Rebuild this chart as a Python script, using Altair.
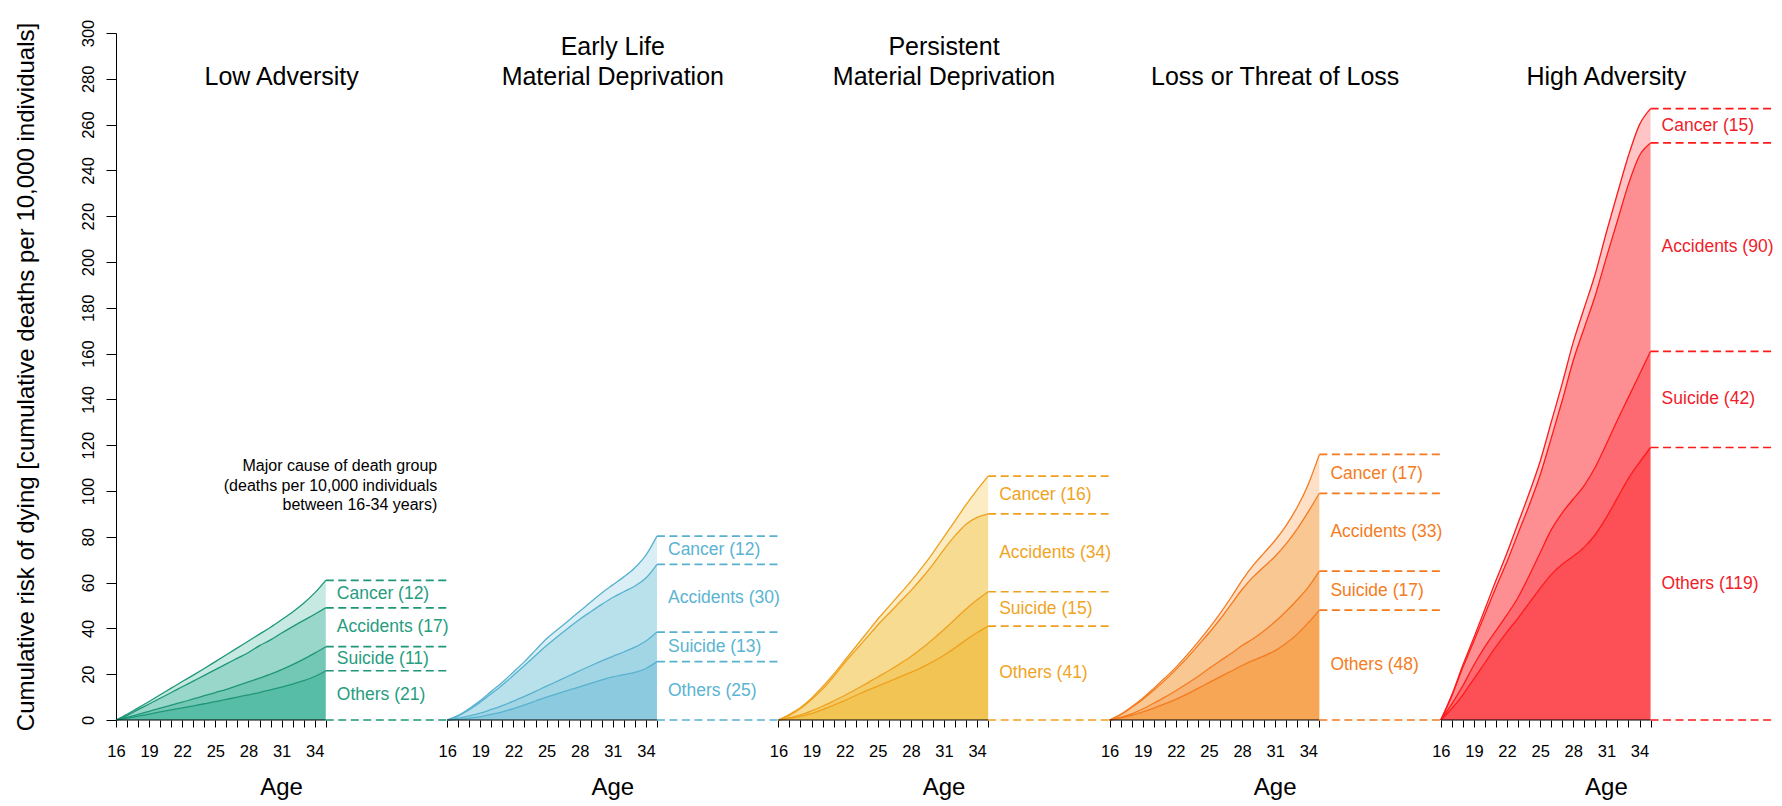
import altair as alt
import pandas as pd

FONT = "Liberation Sans"

AGES = list(range(16, 36))
TITLE_LINES = [
    ["Low Adversity"],
    ["Early Life", "Material Deprivation"],
    ["Persistent", "Material Deprivation"],
    ["Loss or Threat of Loss"],
    ["High Adversity"],
]
CAUSES = ["Others", "Suicide", "Accidents", "Cancer"]
COUNTS = [
    [21, 11, 17, 12],
    [25, 13, 30, 12],
    [41, 15, 34, 16],
    [48, 17, 33, 17],
    [119, 42, 90, 15],
]

# Cumulative boundary curves (top of each band), ages 16..35
P1_OTHERS = [0, 0.8, 1.7, 2.6, 3.5, 4.4, 5.3, 6.2, 7.1, 8, 9, 10, 11, 12, 13.2, 14.4, 15.7, 17.2, 19, 21.5]
P1_SUICIDE = [0, 1.2, 2.5, 3.8, 5.2, 6.5, 7.8, 9.2, 10.6, 12, 13.4, 15, 16.6, 18.3, 20, 22, 24.2, 26.6, 29.2, 32]
P1_ACCIDENTS = [0, 2, 4.5, 7, 9.5, 12, 14.5, 17, 19.5, 22, 24.5, 27, 29.5, 32.5, 35, 38, 40.8, 43.5, 46.2, 49]
P1_TOTAL = [0, 2.5, 5.3, 8.1, 11, 13.9, 16.8, 19.6, 22.5, 25.5, 28.5, 31.5, 34.5, 37.5, 40.5, 43.8, 47.2, 51, 55.5, 61]

P2_OTHERS = [0, 0.3, 0.8, 1.5, 2.5, 3.6, 5, 6.6, 8.3, 10, 11.5, 13, 14.5, 16, 17.5, 18.8, 19.8, 20.8, 22.5, 25.5]
P2_SUICIDE = [0, 0.8, 1.8, 3, 4.6, 6.3, 8.2, 10.3, 12.5, 14.8, 17, 19.2, 21.5, 23.7, 25.8, 27.8, 29.7, 31.8, 34.5, 38.4]
P2_ACCIDENTS = [0, 1.8, 4.5, 7.8, 11.5, 15.3, 19.5, 23.8, 28.2, 32.5, 36.5, 40.3, 44, 47.3, 50.5, 53.5, 56, 58.5, 62, 68]
P2_TOTAL = [0, 2, 5, 8.5, 12.5, 16.5, 21, 25.5, 30.5, 35.5, 39.5, 43.5, 47.5, 51.5, 55.5, 59, 62.5, 66.5, 72, 80.3]

P3_OTHERS = [0, 0.7, 1.6, 2.8, 4.5, 6.5, 8.5, 10.7, 12.8, 14.8, 16.8, 18.8, 20.8, 23, 25.5, 28.3, 31.5, 35, 38.2, 41]
P3_SUICIDE = [0, 1, 2.2, 4, 6, 8.3, 10.7, 13.3, 16, 18.8, 21.5, 24.5, 27.7, 31.3, 35.3, 39.5, 44, 48.5, 52.5, 56]
P3_ACCIDENTS = [0, 2, 5, 9, 13.5, 19, 25, 30.5, 36, 41.5, 46.5, 51.5, 56.5, 62, 68, 74.5, 80.5, 85.5, 88.5, 90]
P3_TOTAL = [0, 2.5, 5.5, 9.5, 14.5, 20, 26, 32, 38, 44, 49.5, 55, 60.5, 66.5, 73, 80, 87, 94, 100.5, 106.5]

P4_OTHERS = [0, 0.9, 2, 3.5, 5.2, 7, 9, 11.3, 13.8, 16.3, 18.8, 21.3, 23.8, 26, 28, 30.3, 33.5, 37.5, 42.5, 48]
P4_SUICIDE = [0, 1.2, 2.7, 4.8, 7.3, 10, 12.8, 15.8, 19, 22.5, 25.8, 29, 32.5, 35.5, 39, 43, 47.5, 52.5, 58, 65]
P4_ACCIDENTS = [0, 2.3, 5.5, 9, 13, 17.3, 22, 27, 32.5, 38, 44, 50.5, 57, 62.5, 67, 71.5, 77, 83.5, 91, 99]
P4_TOTAL = [0, 2.5, 5.8, 9.5, 13.8, 18.3, 23, 28.3, 34, 40, 46.5, 53.5, 61, 67.5, 73, 78.5, 85, 93, 103, 116]

P5_OTHERS = [0, 5, 11, 18, 25, 32, 38.5, 44.5, 51, 57.5, 63.5, 68, 71.5, 75.5, 81, 88.5, 97, 105.5, 112.5, 119]
P5_SUICIDE = [0, 7, 15, 24, 32, 39, 46, 53.5, 63, 73, 83, 90.5, 96.5, 102.5, 110.5, 120.5, 131, 141, 151, 161]
P5_ACCIDENTS = [0, 10.5, 23, 34.5, 46.2, 58, 69.2, 81.5, 93.7, 107, 123, 139.5, 157, 171.3, 185.5, 202, 218, 234, 246.5, 252]
P5_TOTAL = [0, 11, 24, 36, 48.5, 61, 73, 86, 99, 113, 130, 147, 165, 180, 195, 213, 230, 246.5, 260, 267]

CURVES = [
    [P1_OTHERS, P1_SUICIDE, P1_ACCIDENTS, P1_TOTAL],
    [P2_OTHERS, P2_SUICIDE, P2_ACCIDENTS, P2_TOTAL],
    [P3_OTHERS, P3_SUICIDE, P3_ACCIDENTS, P3_TOTAL],
    [P4_OTHERS, P4_SUICIDE, P4_ACCIDENTS, P4_TOTAL],
    [P5_OTHERS, P5_SUICIDE, P5_ACCIDENTS, P5_TOTAL],
]

LINE_COLORS = ["#1e9678", "#57b1cf", "#efa11e", "#f57a1f", "#ff1a1a"]
TEXT_COLORS = ["#279c7f", "#5ab4d2", "#f0a424", "#f57c22", "#f01c2a"]
FILL_COLORS = [
    ["#57bda7", "#73c7b5", "#99d7ca", "#c6eae2"],
    ["#8ccbdf", "#a2d6e5", "#b8e1eb", "#d9eff5"],
    ["#f2c453", "#f4cc67", "#f7db90", "#fbecc4"],
    ["#f6a655", "#f7b475", "#f9c792", "#fde0c5"],
    ["#fd4f56", "#fd6a71", "#fd8f92", "#fec4c6"],
]

NOTE_LINES = ["Major cause of death group", "(deaths per 10,000 individuals", "between 16-34 years)"]
YTITLE = "Cumulative risk of dying [cumulative deaths per 10,000 individuals]"

SPAN = 30          # horizontal room per panel, in years
DASH_END = 46      # dashed guides run from age 35 to here
LABEL_AGE = 36
TITLE_AGE = 31

# ---------- build tables ----------
area_rows, line_rows, dash_rows, label_rows, base_rows = [], [], [], [], []
title_rows, age_rows = [], []
for p in range(5):
    off = SPAN * p
    curves = CURVES[p]
    for i in range(4):
        lo_curve = curves[i - 1] if i > 0 else [0] * len(AGES)
        hi_curve = curves[i]
        for k, a in enumerate(AGES):
            area_rows.append(dict(x=a + off, lo=lo_curve[k], hi=hi_curve[k],
                                  key=f"{p}-{i}", fill=FILL_COLORS[p][i]))
            line_rows.append(dict(x=a + off, y=hi_curve[k], key=f"{p}-{i}",
                                  col=LINE_COLORS[p]))
        lo_end = lo_curve[-1]
        hi_end = hi_curve[-1]
        label_rows.append(dict(x=LABEL_AGE + off, y=(lo_end + hi_end) / 2,
                               text=f"{CAUSES[i]} ({COUNTS[p][i]})", col=TEXT_COLORS[p]))
    for lvl in [0] + [c[-1] for c in curves]:
        dash_rows.append(dict(x=AGES[-1] + off, x2=DASH_END + off, y=lvl, col=LINE_COLORS[p]))
    base_rows.append(dict(x=AGES[0] + off, x2=AGES[-1] + off, y=0))
    lines = TITLE_LINES[p]
    ys = [280.7] if len(lines) == 1 else [293.8, 280.7]
    for t, yv in zip(lines, ys):
        title_rows.append(dict(x=TITLE_AGE + off, y=yv, text=t))
    age_rows.append(dict(x=TITLE_AGE + off, y=-29.7, text="Age"))

note_rows = [dict(x=45.1, y=yv, text=t) for t, yv in zip(NOTE_LINES, [111.0, 102.4, 93.8])]

areas = pd.DataFrame(area_rows)
lines_df = pd.DataFrame(line_rows)
dashes = pd.DataFrame(dash_rows)
labels = pd.DataFrame(label_rows)
bases = pd.DataFrame(base_rows)
titles = pd.DataFrame(title_rows)
ages_df = pd.DataFrame(age_rows)
notes = pd.DataFrame(note_rows)

tick_vals = [a + SPAN * p for p in range(5) for a in AGES]

xscale = alt.Scale(domain=[16, 16 + 5 * SPAN], nice=False, zero=False)
yscale = alt.Scale(domain=[0, 300], nice=False)

xaxis = alt.Axis(
    values=tick_vals,
    labelExpr="((datum.value - 16) % 30) % 3 == 0 && ((datum.value - 16) % 30) <= 18 ? '' + (((datum.value - 16) % 30) + 16) : ''",
    title=None, domain=False, grid=False, tickSize=7, tickColor="black", tickWidth=1,
    labelFont=FONT, labelFontSize=16.5, labelColor="black", labelPadding=16,
    labelOverlap=False, labelFlush=False,
)
yaxis = alt.Axis(
    values=list(range(0, 301, 20)), grid=False,
    title=YTITLE, titleFont=FONT, titleFontSize=24, titleFontWeight="normal",
    titleColor="black", titleAngle=270, titleX=-89.5, titleY=343.5,
    titleAlign="center", titleBaseline="middle",
    labelAngle=270, labelAlign="center", labelBaseline="middle",
    labelFont=FONT, labelFontSize=16.5, labelColor="black", labelPadding=18,
    labelOverlap=False, tickSize=10, tickColor="black", domainColor="black",
)

X = alt.X("x:Q", scale=xscale, axis=xaxis)
Y = alt.Y("y:Q", scale=yscale, axis=yaxis)

area_layer = alt.Chart(areas).mark_area(interpolate="monotone", opacity=1).encode(
    x=X,
    y=alt.Y("hi:Q", scale=yscale, axis=yaxis),
    y2="lo:Q",
    color=alt.Color("fill:N", scale=None),
    detail="key:N",
)
line_layer = alt.Chart(lines_df).mark_line(interpolate="monotone", strokeWidth=1.3).encode(
    x=X, y=Y, color=alt.Color("col:N", scale=None), detail="key:N",
)
dash_layer = alt.Chart(dashes).mark_rule(strokeDash=[8, 4.5], strokeWidth=1.7).encode(
    x=X, x2="x2:Q", y=Y, color=alt.Color("col:N", scale=None),
)
base_layer = alt.Chart(bases).mark_rule(color="black", strokeWidth=1).encode(
    x=X, x2="x2:Q", y=Y,
)
label_layer = alt.Chart(labels).mark_text(
    align="left", baseline="middle", font=FONT, fontSize=17.5
).encode(x=X, y=Y, text="text:N", color=alt.Color("col:N", scale=None))
title_layer = alt.Chart(titles).mark_text(
    align="center", baseline="middle", font=FONT, fontSize=25, color="black"
).encode(x=X, y=Y, text="text:N")
age_layer = alt.Chart(ages_df).mark_text(
    align="center", baseline="middle", font=FONT, fontSize=24, color="black"
).encode(x=X, y=Y, text="text:N")
note_layer = alt.Chart(notes).mark_text(
    align="right", baseline="middle", font=FONT, fontSize=16, color="black"
).encode(x=X, y=Y, text="text:N")

chart = alt.layer(
    area_layer, line_layer, base_layer, dash_layer,
    label_layer, title_layer, age_layer, note_layer,
).properties(
    width=1656, height=687,
    autosize=alt.AutoSizeParams(type="none"),
    padding={"left": 108, "top": 25, "right": 2, "bottom": 92},
).configure_view(stroke=None)

chart.save("out.html", embed_options={"renderer": "svg", "actions": False})
